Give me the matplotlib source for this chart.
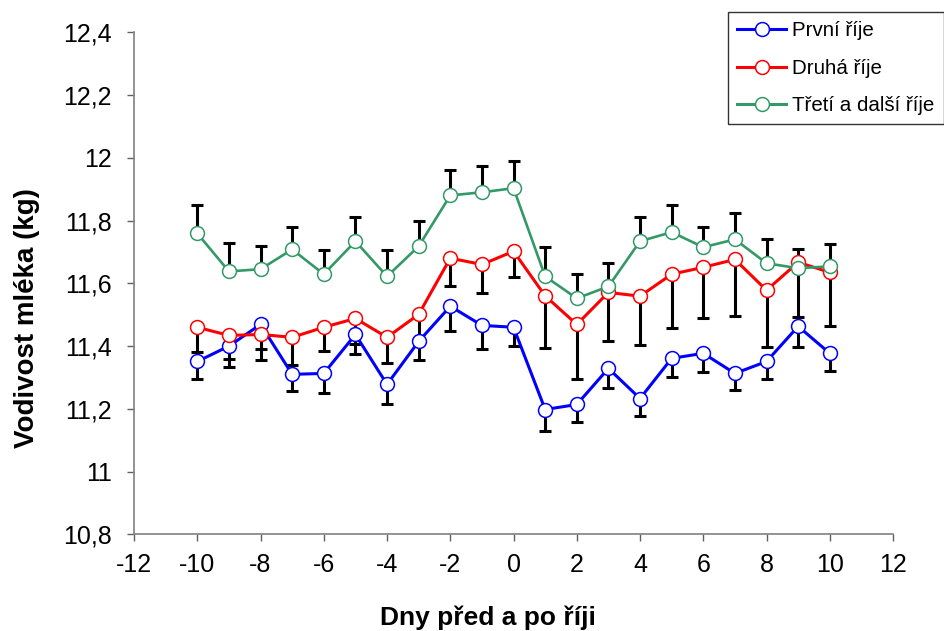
import matplotlib
matplotlib.use('Agg')
import matplotlib.pyplot as plt
from matplotlib.ticker import FuncFormatter, MultipleLocator

plt.rcParams['font.family'] = ['Liberation Sans', 'DejaVu Sans']
plt.rcParams['axes.unicode_minus'] = False

days = [-10, -9, -8, -7, -6, -5, -4, -3, -2, -1, 0, 1, 2, 3, 4, 5, 6, 7, 8, 9, 10]

prvni = [11.351, 11.400, 11.469, 11.310, 11.313, 11.437, 11.278, 11.415, 11.527, 11.466, 11.460,
         11.198, 11.214, 11.329, 11.233, 11.361, 11.377, 11.313, 11.351, 11.463, 11.377]
prvni_err = [0.057, 0.065, 0.079, 0.054, 0.063, 0.063, 0.064, 0.060, 0.080, 0.076, 0.060,
             0.068, 0.057, 0.064, 0.057, 0.061, 0.061, 0.054, 0.057, 0.067, 0.057]

druha = [11.460, 11.434, 11.437, 11.428, 11.460, 11.488, 11.428, 11.501, 11.680, 11.660, 11.702,
         11.560, 11.469, 11.571, 11.559, 11.629, 11.651, 11.676, 11.578, 11.667, 11.635]
druha_err = [0.080, 0.076, 0.082, 0.088, 0.077, 0.080, 0.083, 0.080, 0.090, 0.092, 0.082,
             0.167, 0.175, 0.156, 0.157, 0.172, 0.163, 0.181, 0.182, 0.175, 0.172]

treti = [11.759, 11.638, 11.645, 11.708, 11.629, 11.734, 11.622, 11.718, 11.880, 11.890, 11.903,
         11.622, 11.552, 11.590, 11.734, 11.763, 11.715, 11.740, 11.664, 11.648, 11.654]
treti_err = [0.091, 0.092, 0.075, 0.072, 0.076, 0.076, 0.083, 0.082, 0.080, 0.083, 0.087,
             0.093, 0.077, 0.074, 0.076, 0.087, 0.065, 0.083, 0.076, 0.062, 0.070]

labels = ['První říje', 'Druhá říje', 'Třetí a další říje']
colors = ['#0000FF', '#FF0000', '#339966']

fig = plt.figure(figsize=(9.44, 6.31), dpi=100)
ax = fig.add_axes([0.142, 0.153, 0.804, 0.796])

# error bars: first two series downward, third upward
zero = [0] * len(days)
eb = dict(fmt='none', ecolor='black', elinewidth=2.2, capsize=4.5, capthick=2.2, zorder=1)
ax.errorbar(days, prvni, yerr=[prvni_err, zero], **eb)
ax.errorbar(days, druha, yerr=[druha_err, zero], **eb)
ax.errorbar(days, treti, yerr=[zero, treti_err], **eb)

series = [prvni, druha, treti]
for i in range(3):
    ax.plot(days, series[i], color=colors[i], lw=2.2 if i < 2 else 1.9, marker='o',
            markersize=10, markerfacecolor='white', markeredgecolor=colors[i],
            markeredgewidth=1.1, label=labels[i], zorder=2 + i)

ax.set_xlim(-12, 12)
ax.set_ylim(10.8, 12.4)
ax.xaxis.set_major_locator(MultipleLocator(2))
ax.yaxis.set_major_locator(MultipleLocator(0.2))
ax.yaxis.set_major_formatter(FuncFormatter(lambda v, p: ('%g' % round(v, 2)).replace('.', ',')))
ax.xaxis.set_major_formatter(FuncFormatter(lambda v, p: '%d' % round(v)))

for s in ['top', 'right']:
    ax.spines[s].set_visible(False)
for s in ['left', 'bottom']:
    ax.spines[s].set_color('#808080')
    ax.spines[s].set_linewidth(1.2)
ax.tick_params(direction='out', length=5, width=1, color='#606060', labelsize=18)
ax.tick_params(axis='y', pad=11)
ax.tick_params(axis='x', pad=8)

ax.set_xlabel('Dny před a po říji', fontsize=19, fontweight='bold', va='center', ha='center')
ax.set_ylabel('Vodivost mléka (kg)', fontsize=20, fontweight='bold', va='center', ha='center')
ax.xaxis.set_label_coords(0.466, -0.166)
ax.yaxis.set_label_coords(-0.141, 0.431)

leg = ax.legend(loc='upper right', bbox_to_anchor=(1.0, 0.981), bbox_transform=fig.transFigure,
                fontsize=14.8, frameon=True, fancybox=False, borderaxespad=0,
                handlelength=2.4, labelspacing=0.9, borderpad=0.45, handletextpad=0.3)
leg.get_frame().set_edgecolor('black')
leg.get_frame().set_linewidth(1.0)
for h in leg.get_lines():
    h.set_linewidth(2.2)

plt.savefig('out.png', dpi=100)
